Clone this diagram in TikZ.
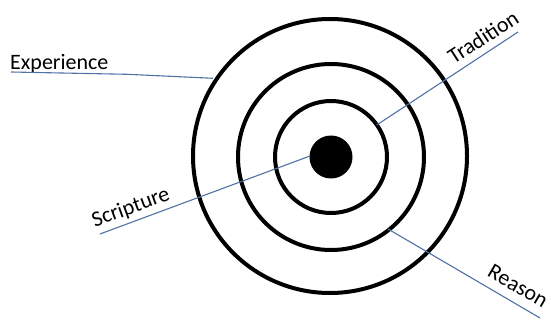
\documentclass[tikz,border=0pt]{standalone}
\usepackage{fontspec}
\setmainfont{Carlito}
\definecolor{leader}{RGB}{79,113,165}
\begin{document}
\begin{tikzpicture}[x=1pt,y=1pt,
  ring/.style={circle,draw=black,line width=4pt,inner sep=0pt},
  leaderline/.style={draw=leader,line width=1.1pt},
  lbl/.style={font=\fontsize{22}{26}\selectfont,inner sep=0pt,text=black}]
\useasboundingbox (0,0) rectangle (551,327);
\node[ring,minimum size=274pt] (outer) at (330,171) {};
\node[ring,minimum size=186pt] (middle) at (331,170) {};
\node[ring,minimum size=112pt] (inner) at (331,170) {};
\node[circle,fill=black,minimum size=43pt,inner sep=0pt] (bull) at (331,170) {};
% labels
\node[lbl,anchor=base west] (exp) at (10,257) {Experience};
\node[lbl,rotate=33] (trad) at (483,290) {Tradition};
\node[lbl,rotate=20] (scr) at (131,119) {Scripture};
\node[lbl,rotate=-30] (rea) at (518,41) {Reason};
% leader ends
\coordinate (expA) at (11,255);
\coordinate (expB) at (127,252.7);
\coordinate (expC) at (213,248.7);
\coordinate (tradA) at (376.7,202);
\coordinate (tradB) at (518,295);
\coordinate (scrA) at (310,171);
\coordinate (scrB) at (100,93);
\coordinate (reaA) at (388,98);
\coordinate (reaB) at (540,9);
\draw[leaderline] (expA) -- (expB) -- (expC);
\draw[leaderline] (tradA) -- (tradB);
\draw[leaderline] (scrA) -- (scrB);
\draw[leaderline] (reaA) -- (reaB);
\end{tikzpicture}
\end{document}
